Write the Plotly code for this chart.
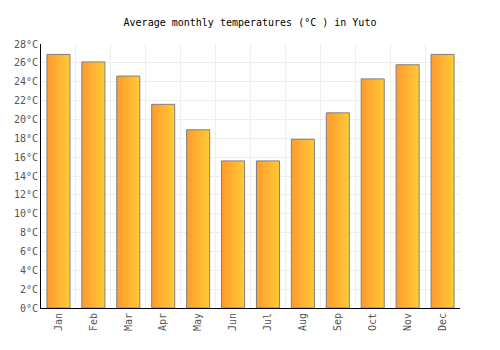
import plotly.graph_objects as go

months = ["Jan", "Feb", "Mar", "Apr", "May", "Jun", "Jul", "Aug", "Sep", "Oct", "Nov", "Dec"]
temps = [26.9, 26.1, 24.6, 21.6, 18.9, 15.6, 15.6, 17.9, 20.7, 24.3, 25.8, 26.9]
y_ticks = list(range(0, 29, 2))
y_labels = [f"{v}°C" for v in y_ticks]

half = 0.33
fig = go.Figure()
for i, (m, t) in enumerate(zip(months, temps)):
    fig.add_trace(go.Scatter(
        x=[i - half, i + half, i + half, i - half, i - half],
        y=[0, 0, t, t, 0],
        mode="lines",
        fill="toself",
        fillgradient=dict(type="horizontal",
                          colorscale=[[0, "#FF9A2E"], [1, "#FFCB35"]]),
        line=dict(color="#808080", width=1),
        hoverinfo="text",
        text=f"{m}: {t}°C",
        showlegend=False,
    ))

font = "DejaVu Sans Mono, monospace"
fig.update_layout(
    width=500, height=350,
    margin=dict(l=41, r=40, t=44, b=42),
    paper_bgcolor="white", plot_bgcolor="white",
    title=dict(text="Average monthly temperatures (°C ) in Yuto",
               x=0.5, xanchor="center", y=0.937, yanchor="middle",
               font=dict(family=font, size=10, color="#000")),
    xaxis=dict(range=[-0.5, 11.5], tickvals=list(range(12)), ticktext=months,
               tickangle=-90, showgrid=False, zeroline=False,
               showline=True, linecolor="#000", linewidth=1,
               tickfont=dict(family=font, size=10, color="#555"),
               minor=dict(tick0=0.5, dtick=1, showgrid=True, gridcolor="#eeeeee", gridwidth=1),
               fixedrange=True),
    yaxis=dict(range=[0, 28], tickvals=y_ticks, ticktext=y_labels,
               showgrid=True, gridcolor="#eeeeee", zeroline=False,
               showline=True, linecolor="#000", linewidth=1,
               tickfont=dict(family=font, size=10, color="#555"),
               fixedrange=True),
)

fig.write_html("out.html")
